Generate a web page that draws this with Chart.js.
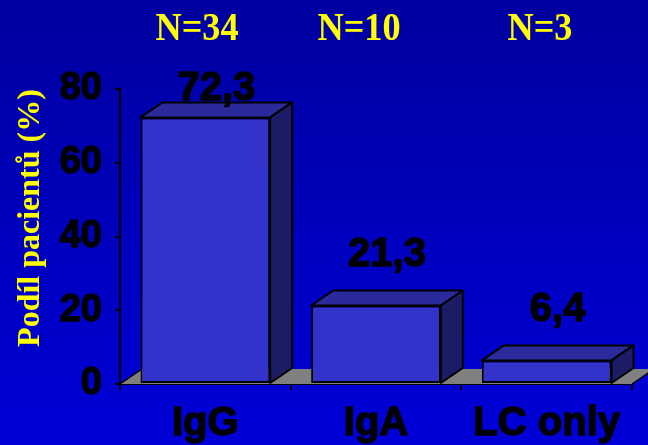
<!DOCTYPE html>
<html>
<head>
<meta charset="utf-8">
<script src="https://cdn.jsdelivr.net/npm/chart.js@4/dist/chart.umd.min.js"></script>
<style>
  html, body { margin: 0; padding: 0; background: #0000b8; }
  #wrap { width: 648px; height: 445px; }
</style>
</head>
<body>
<div id="wrap"><canvas id="c" width="648" height="445"></canvas></div>
<script>
// Share of patients by paraprotein type
const categories = ['IgG', 'IgA', 'LC only'];
const percentages = [72.3, 21.3, 6.4];
const groupSizes = ['N=34', 'N=10', 'N=3'];
const yTicks = [0, 20, 40, 60, 80];
const yTitle = 'Podíl pacientů (%)';

// depth of the pseudo-3D extrusion (pixels to the right / upward)
const DEPTH_X = 22;
const DEPTH_Y = -15;

const SANS = '"Liberation Sans", Arial, sans-serif';
const SERIF = '"Liberation Serif", "Times New Roman", serif';

const fmt = v => String(v).replace('.', ',');

const backdrop = {
  id: 'backdrop',
  beforeDraw(chart) {
    const { ctx, width, height } = chart;
    const g = ctx.createLinearGradient(0, 0, 0, height);
    g.addColorStop(0, '#0000a0');
    g.addColorStop(1, '#0000d8');
    ctx.save();
    ctx.fillStyle = g;
    ctx.fillRect(0, 0, width, height);
    ctx.restore();
  }
};

const floor3d = {
  id: 'floor3d',
  beforeDatasetsDraw(chart) {
    const { ctx, chartArea: a } = chart;
    const b = chart.scales.y.getPixelForValue(0);
    ctx.save();
    ctx.beginPath();
    ctx.moveTo(a.left, b);
    ctx.lineTo(a.right, b);
    ctx.lineTo(a.right + DEPTH_X, b + DEPTH_Y);
    ctx.lineTo(a.left + DEPTH_X, b + DEPTH_Y);
    ctx.closePath();
    ctx.fillStyle = '#808080';
    ctx.fill();
    ctx.strokeStyle = '#000';
    ctx.lineWidth = 1.5;
    ctx.beginPath();
    ctx.moveTo(a.left, b);
    ctx.lineTo(a.left + DEPTH_X, b + DEPTH_Y);
    ctx.moveTo(a.right, b);
    ctx.lineTo(a.right + DEPTH_X, b + DEPTH_Y);
    ctx.stroke();
    ctx.restore();
  }
};

const bars3d = {
  id: 'bars3d',
  afterDatasetsDraw(chart) {
    const { ctx, chartArea: a } = chart;
    const meta = chart.getDatasetMeta(0);
    ctx.save();
    ctx.lineWidth = 2;
    ctx.strokeStyle = '#000';
    ctx.lineJoin = 'round';
    meta.data.forEach((bar, i) => {
      const { x, y, base, width } = bar.getProps(['x', 'y', 'base', 'width'], true);
      const l = x - width / 2, r = x + width / 2;
      // top face
      ctx.beginPath();
      ctx.moveTo(l, y);
      ctx.lineTo(r, y);
      ctx.lineTo(r + DEPTH_X, y + DEPTH_Y);
      ctx.lineTo(l + DEPTH_X, y + DEPTH_Y);
      ctx.closePath();
      ctx.fillStyle = '#2a2a9c';
      ctx.fill();
      ctx.stroke();
      // side face
      ctx.beginPath();
      ctx.moveTo(r, y);
      ctx.lineTo(r + DEPTH_X, y + DEPTH_Y);
      ctx.lineTo(r + DEPTH_X, base + DEPTH_Y);
      ctx.lineTo(r, base);
      ctx.closePath();
      ctx.fillStyle = '#1c1c66';
      ctx.fill();
      ctx.stroke();
    });

    // value labels above the bars, kept inside the upper margin
    ctx.fillStyle = '#000';
    ctx.lineWidth = 1.4;
    ctx.font = 'bold 40px ' + SANS;
    ctx.textAlign = 'center';
    ctx.textBaseline = 'alphabetic';
    meta.data.forEach((bar, i) => {
      const v = chart.data.datasets[0].data[i];
      const by = Math.max(bar.y + DEPTH_Y - 24, a.top + 11);
      ctx.fillText(fmt(v), bar.x + DEPTH_X / 2, by);
      ctx.strokeText(fmt(v), bar.x + DEPTH_X / 2, by);
    });
    ctx.restore();
  }
};

const annotations = {
  id: 'annotations',
  afterDraw(chart) {
    const { ctx } = chart;
    ctx.save();
    ctx.fillStyle = '#ffff00';
    // group sizes along the top
    const nx = [197, 359, 540];
    ctx.font = 'bold 39px ' + SERIF;
    ctx.textAlign = 'center';
    ctx.textBaseline = 'alphabetic';
    groupSizes.forEach((t, i) => {
      ctx.save();
      ctx.translate(nx[i], 40);
      ctx.scale(0.93, 1);
      ctx.fillText(t, 0, 0);
      ctx.restore();
    });
    // vertical axis title
    ctx.save();
    ctx.translate(31, 218);
    ctx.rotate(-Math.PI / 2);
    ctx.font = 'bold 32px ' + SERIF;
    ctx.textBaseline = 'middle';
    ctx.fillText(yTitle, 0, 0);
    ctx.restore();
    ctx.restore();
  }
};

new Chart(document.getElementById('c'), {
  type: 'bar',
  data: {
    labels: categories,
    datasets: [{
      data: percentages,
      backgroundColor: '#3333cc',
      borderColor: '#000',
      borderWidth: 2,
      borderSkipped: false,
      barPercentage: 0.76,
      categoryPercentage: 1.0
    }]
  },
  options: {
    responsive: false,
    devicePixelRatio: 1,
    animation: false,
    layout: { padding: { left: 0, top: 89, right: 16, bottom: 0 } },
    plugins: { legend: { display: false }, tooltip: { enabled: false } },
    scales: {
      x: {
        grid: { display: true, drawOnChartArea: false, offset: true, tickLength: 6, color: '#000', lineWidth: 2 },
        border: { display: true, color: '#000', width: 2 },
        ticks: {
          color: '#000', padding: 10, textStrokeColor: '#000', textStrokeWidth: 1.4,
          font: { family: SANS, weight: 'bold', size: 40 }
        },
        afterFit(s) { s.height = 61; }
      },
      y: {
        min: yTicks[0],
        max: yTicks[yTicks.length - 1],
        afterBuildTicks(s) { s.ticks = yTicks.map(v => ({ value: v })); },
        grid: { display: true, drawOnChartArea: false, tickLength: 5, color: '#000', lineWidth: 2 },
        border: { display: true, color: '#000', width: 2 },
        ticks: {
          color: '#000', padding: 13, textStrokeColor: '#000', textStrokeWidth: 1.4,
          font: { family: SANS, weight: 'bold', size: 38 }
        },
        afterFit(s) { s.width = 120; }
      }
    }
  },
  plugins: [backdrop, floor3d, bars3d, annotations]
});
</script>
</body>
</html>
